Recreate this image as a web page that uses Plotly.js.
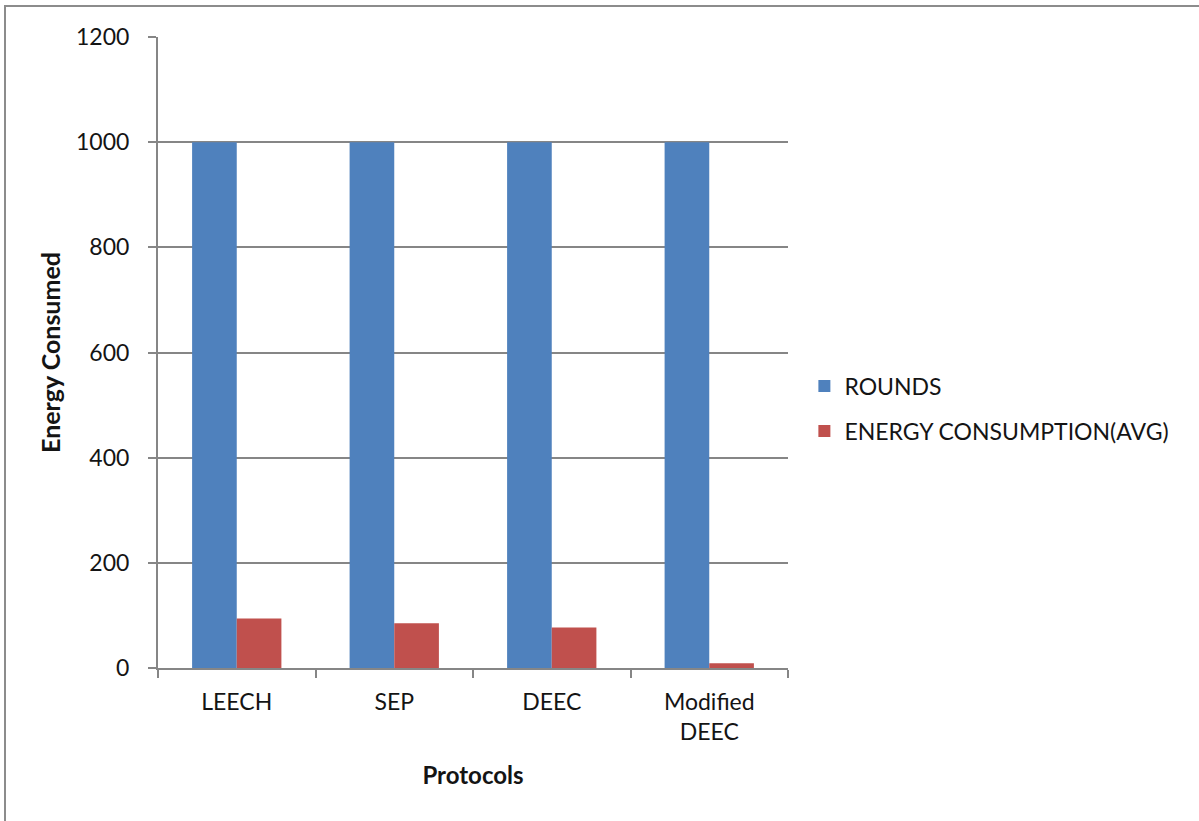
<!DOCTYPE html>
<html>
<head>
<meta charset="utf-8">
<script src="https://cdn.plot.ly/plotly-3.0.1.min.js"></script>
<style>
  html, body { margin: 0; padding: 0; background: #fff; overflow: hidden; }
  #chart { width: 1199px; height: 821px; }
  #frame { position: absolute; left: 4px; top: 5px; width: 1195px; height: 816px;
           border-left: 2px solid #8c8c8c; border-top: 2px solid #8c8c8c; pointer-events: none; }
</style>
</head>
<body>
<div id="chart"></div>
<div id="frame"></div>
<script>
const categories = ['LEECH', 'SEP', 'DEEC', 'Modified<br>DEEC'];
const roundsName = 'ROUNDS';
const energyName = 'ENERGY CONSUMPTION(AVG)';
const rounds = [1000, 1000, 1000, 1000];
const energyAvg = [94, 85, 77, 9];
const yTickVals = [0, 200, 400, 600, 800, 1000, 1200];

const FONT = 'Lato, "Open Sans", sans-serif';
const GRID = '#868686';
const TXT = '#141414';

const traces = [
  { type: 'bar', name: roundsName, x: categories, y: rounds,
    marker: { color: '#4F81BD' }, legendgroup: 'a' },
  { type: 'bar', name: energyName, x: categories, y: energyAvg,
    marker: { color: '#C0504D' }, legendgroup: 'b' }
];

const layout = {
  width: 1199, height: 821,
  margin: { l: 158, r: 411, t: 37, b: 153, pad: 0 },
  paper_bgcolor: '#fff', plot_bgcolor: '#fff',
  font: { family: FONT, size: 23, color: TXT },
  barmode: 'group', bargap: 0.433, bargroupgap: 0,
  showlegend: true,
  legend: { x: 1.026, xanchor: 'left', y: 0.411, yanchor: 'middle',
            font: { family: FONT, size: 23, color: TXT },
            traceorder: 'grouped', tracegroupgap: 12, bgcolor: 'rgba(0,0,0,0)' },
  xaxis: {
    type: 'category', tickson: 'boundaries', ticks: 'outside', ticklen: 8,
    tickwidth: 2, tickcolor: GRID, showline: true, linecolor: GRID, linewidth: 2,
    showgrid: false, zeroline: false, automargin: false,
    ticklabelstandoff: 12,
    tickfont: { family: FONT, size: 23, color: TXT },
    title: { text: '<b>Protocols</b>', font: { family: FONT, size: 24, color: TXT }, standoff: 24 }
  },
  yaxis: {
    range: [0, 1200], tickmode: 'array', tickvals: yTickVals,
    ticks: 'outside', ticklen: 8, tickwidth: 2, tickcolor: GRID,
    showline: true, linecolor: GRID, linewidth: 2,
    showgrid: true, gridcolor: GRID, gridwidth: 2, zeroline: false, automargin: false,
    ticklabelstandoff: 14,
    tickfont: { family: FONT, size: 23, color: TXT },
    title: { text: '<b>Energy Consumed</b>', font: { family: FONT, size: 25, color: TXT }, standoff: 8 }
  }
};

Plotly.newPlot('chart', traces, layout, { displayModeBar: false, staticPlot: true });
</script>
</body>
</html>
